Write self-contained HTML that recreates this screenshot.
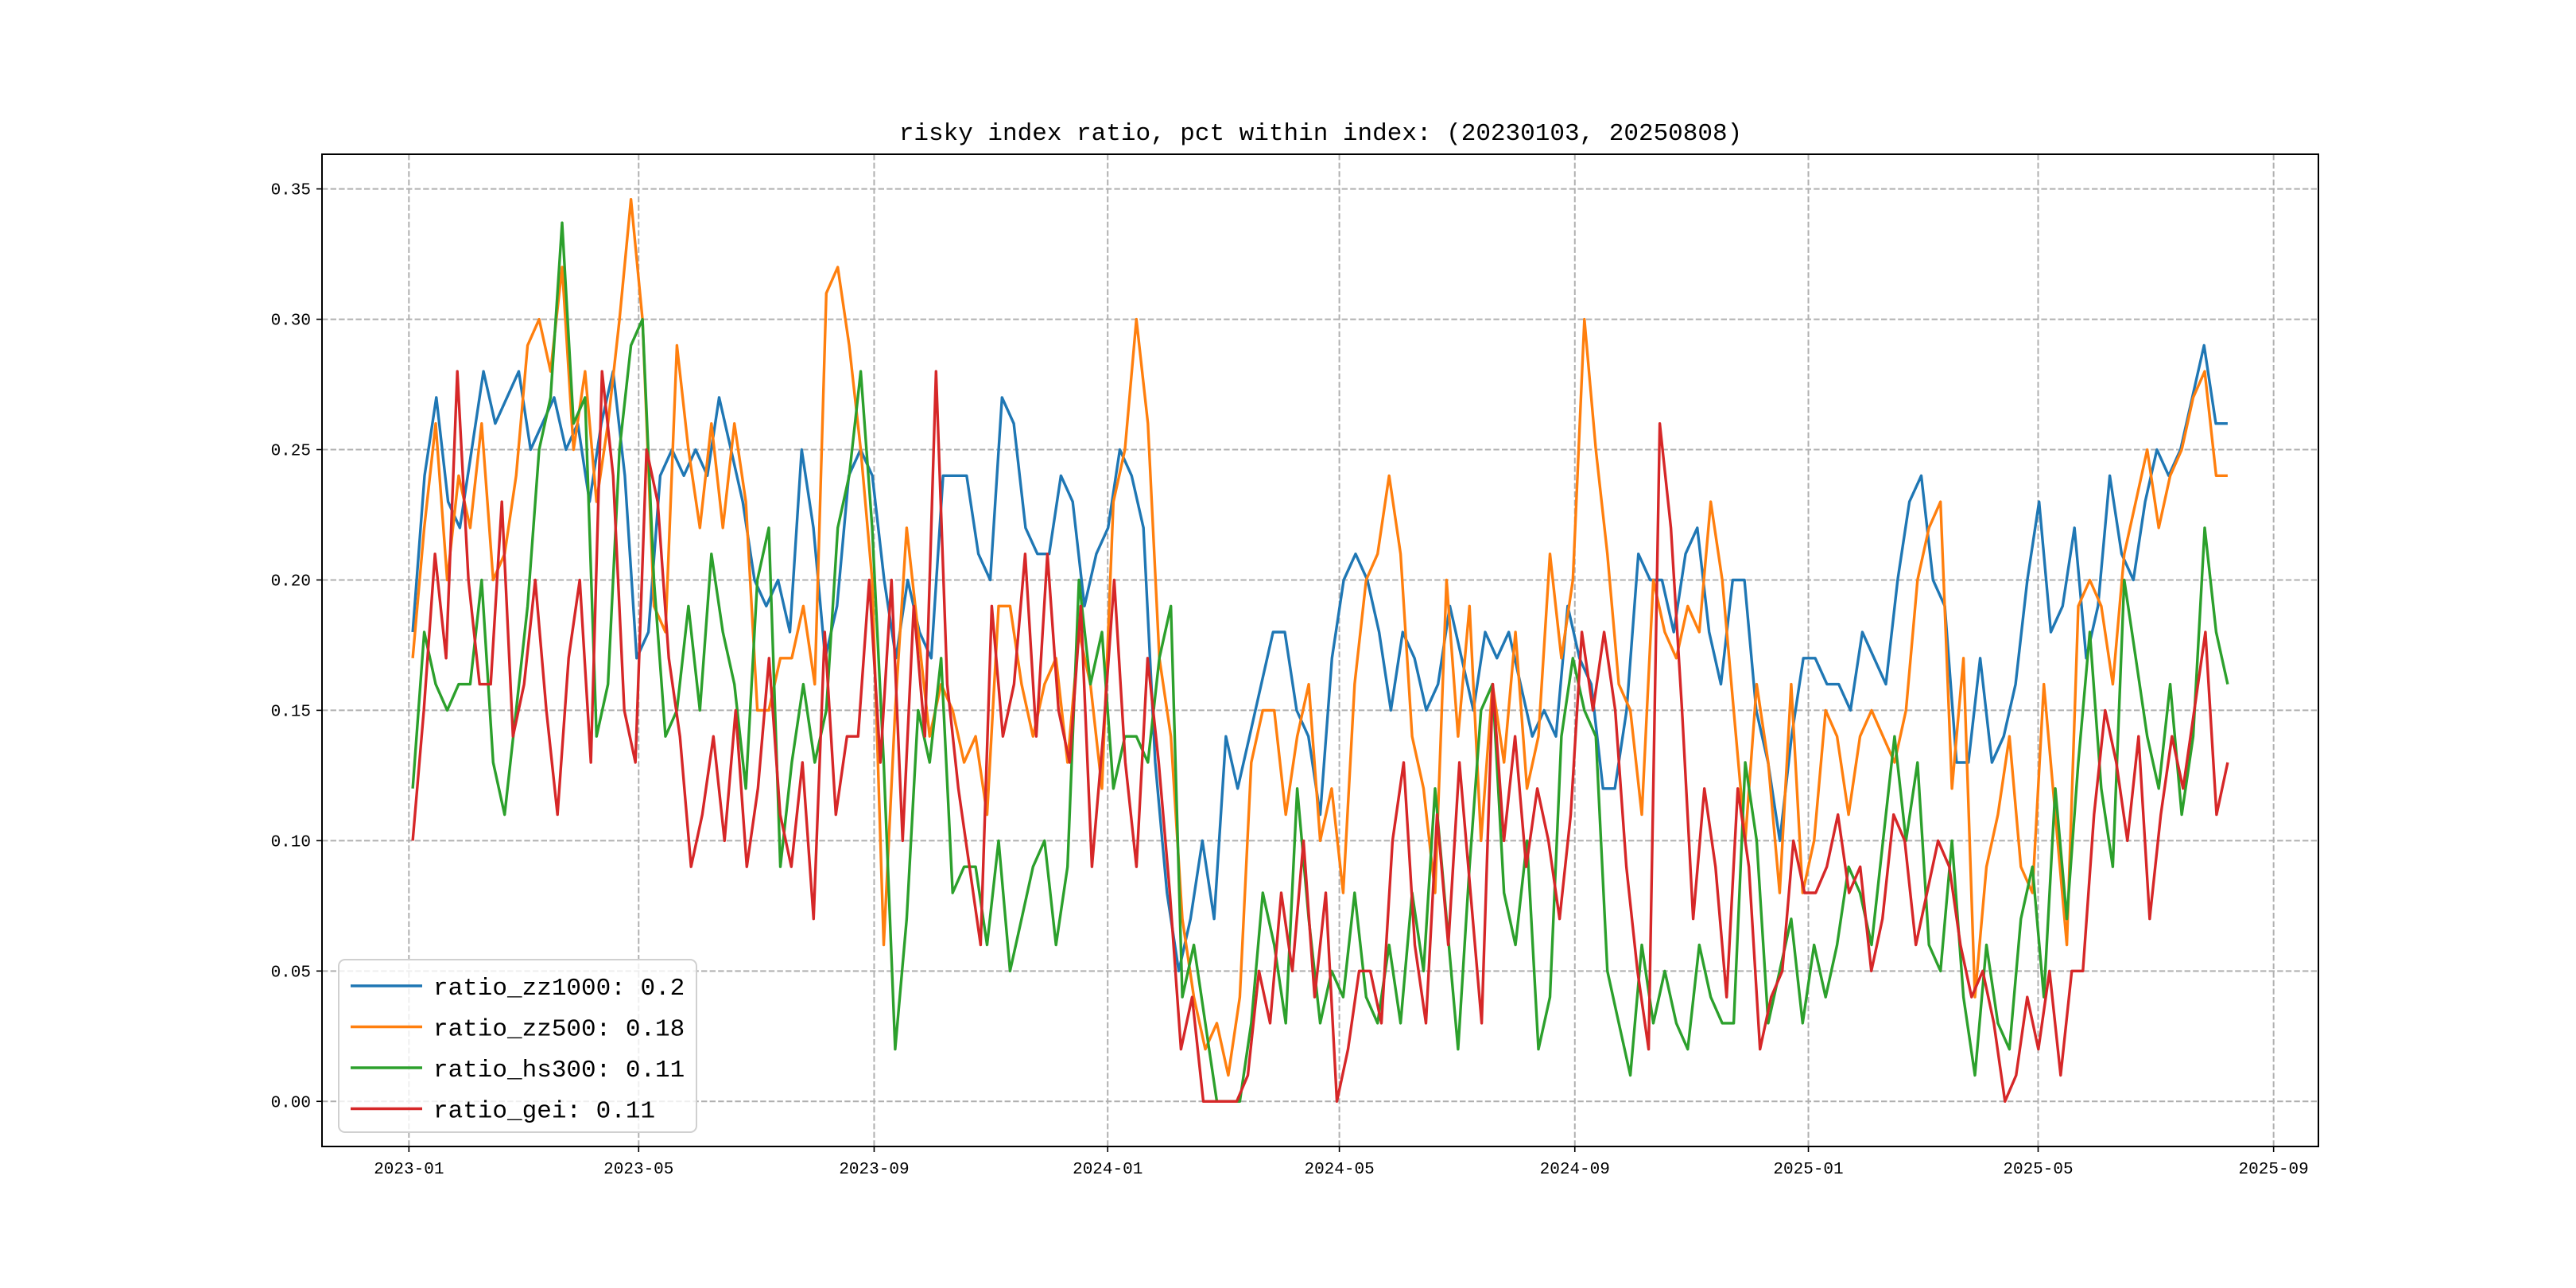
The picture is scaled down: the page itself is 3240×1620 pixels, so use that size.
<!DOCTYPE html>
<html><head><meta charset="utf-8">
<style>
html,body{margin:0;padding:0;background:#fff;}
svg{display:block;}
text{font-family:"Liberation Mono","WenQuanYi Zen Hei",monospace;}
</style></head>
<body>
<svg id="chart" width="3240" height="1620" viewBox="0 0 3240 1620" xmlns="http://www.w3.org/2000/svg">
<rect x="0" y="0" width="3240" height="1620" fill="#fff"/>
<g id="grid"></g>
<g id="series"></g>
<g id="axes"></g>
<text x="1661" y="176" font-size="31" text-anchor="middle">risky index ratio, pct within index: (20230103, 20250808)</text>
<g id="legend"></g>
</svg>
<script>
const startDate = "2023-01-03";
const endDate = "2025-08-08";
const yTicks = [0, 0.05, 0.10, 0.15, 0.20, 0.25, 0.30, 0.35];
const yTickLabels = ["0.00","0.05","0.10","0.15","0.20","0.25","0.30","0.35"];
const xTickDates = ["2023-01-01","2023-05-01","2023-09-01","2024-01-01","2024-05-01","2024-09-01","2025-01-01","2025-05-01","2025-09-01"];
const xTickLabels = ["2023-01","2023-05","2023-09","2024-01","2024-05","2024-09","2025-01","2025-05","2025-09"];
const seriesNames = ["ratio_zz1000: 0.2","ratio_zz500: 0.18","ratio_hs300: 0.11","ratio_gei: 0.11"];
const seriesColors = ["#1f77b4","#ff7f0e","#2ca02c","#d62728"];
const zz1000 = [0.18,0.24,0.27,0.23,0.22,0.25,0.28,0.26,0.27,0.28,0.25,0.26,0.27,0.25,0.26,0.23,0.26,0.28,0.24,0.17,0.18,0.24,0.25,0.24,0.25,0.24,0.27,0.25,0.23,0.20,0.19,0.20,0.18,0.25,0.22,0.17,0.19,0.24,0.25,0.24,0.20,0.17,0.20,0.18,0.17,0.24,0.24,0.24,0.21,0.20,0.27,0.26,0.22,0.21,0.21,0.24,0.23,0.19,0.21,0.22,0.25,0.24,0.22,0.13,0.08,0.05,0.07,0.10,0.07,0.14,0.12,0.14,0.16,0.18,0.18,0.15,0.14,0.11,0.17,0.20,0.21,0.20,0.18,0.15,0.18,0.17,0.15,0.16,0.19,0.17,0.15,0.18,0.17,0.18,0.16,0.14,0.15,0.14,0.19,0.17,0.16,0.12,0.12,0.15,0.21,0.20,0.20,0.18,0.21,0.22,0.18,0.16,0.20,0.20,0.15,0.13,0.10,0.14,0.17,0.17,0.16,0.16,0.15,0.18,0.17,0.16,0.20,0.23,0.24,0.20,0.19,0.13,0.13,0.17,0.13,0.14,0.16,0.20,0.23,0.18,0.19,0.22,0.17,0.19,0.24,0.21,0.20,0.23,0.25,0.24,0.25,0.27,0.29,0.26,0.26];
const zz500 = [0.17,0.22,0.26,0.20,0.24,0.22,0.26,0.20,0.21,0.24,0.29,0.30,0.28,0.32,0.25,0.28,0.23,0.26,0.30,0.346,0.30,0.19,0.18,0.29,0.25,0.22,0.26,0.22,0.26,0.23,0.15,0.15,0.17,0.17,0.19,0.16,0.31,0.32,0.29,0.25,0.20,0.06,0.15,0.22,0.18,0.14,0.16,0.15,0.13,0.14,0.11,0.19,0.19,0.16,0.14,0.16,0.17,0.13,0.18,0.16,0.12,0.23,0.25,0.30,0.26,0.17,0.14,0.07,0.04,0.02,0.03,0.01,0.04,0.13,0.15,0.15,0.11,0.14,0.16,0.10,0.12,0.08,0.16,0.20,0.21,0.24,0.21,0.14,0.12,0.08,0.20,0.14,0.19,0.10,0.16,0.13,0.18,0.12,0.14,0.21,0.17,0.20,0.30,0.25,0.21,0.16,0.15,0.11,0.20,0.18,0.17,0.19,0.18,0.23,0.20,0.15,0.10,0.16,0.13,0.08,0.16,0.08,0.10,0.15,0.14,0.11,0.14,0.15,0.14,0.13,0.15,0.20,0.22,0.23,0.12,0.17,0.04,0.09,0.11,0.14,0.09,0.08,0.16,0.11,0.06,0.19,0.20,0.19,0.16,0.21,0.23,0.25,0.22,0.24,0.25,0.27,0.28,0.24,0.24];
const hs300 = [0.12,0.18,0.16,0.15,0.16,0.16,0.20,0.13,0.11,0.15,0.19,0.25,0.27,0.337,0.26,0.27,0.14,0.16,0.25,0.29,0.30,0.20,0.14,0.15,0.19,0.15,0.21,0.18,0.16,0.12,0.20,0.22,0.09,0.13,0.16,0.13,0.15,0.22,0.24,0.28,0.22,0.13,0.02,0.07,0.15,0.13,0.17,0.08,0.09,0.09,0.06,0.10,0.05,0.07,0.09,0.10,0.06,0.09,0.20,0.16,0.18,0.12,0.14,0.14,0.13,0.17,0.19,0.04,0.06,0.03,0.00,0.00,0.00,0.03,0.08,0.06,0.03,0.12,0.07,0.03,0.05,0.04,0.08,0.04,0.03,0.06,0.03,0.08,0.05,0.12,0.07,0.02,0.09,0.15,0.16,0.08,0.06,0.10,0.02,0.04,0.14,0.17,0.15,0.14,0.05,0.03,0.01,0.06,0.03,0.05,0.03,0.02,0.06,0.04,0.03,0.03,0.13,0.10,0.03,0.05,0.07,0.03,0.06,0.04,0.06,0.09,0.08,0.06,0.10,0.14,0.10,0.13,0.06,0.05,0.10,0.04,0.01,0.06,0.03,0.02,0.07,0.09,0.04,0.12,0.07,0.13,0.18,0.12,0.09,0.20,0.17,0.14,0.12,0.16,0.11,0.14,0.22,0.18,0.16];
const gei = [0.10,0.15,0.21,0.17,0.28,0.20,0.16,0.16,0.23,0.14,0.16,0.20,0.15,0.11,0.17,0.20,0.13,0.28,0.24,0.15,0.13,0.25,0.23,0.17,0.14,0.09,0.11,0.14,0.10,0.15,0.09,0.12,0.17,0.11,0.09,0.13,0.07,0.18,0.11,0.14,0.14,0.20,0.13,0.20,0.10,0.19,0.14,0.28,0.16,0.12,0.09,0.06,0.19,0.14,0.16,0.21,0.14,0.21,0.15,0.13,0.19,0.09,0.14,0.20,0.13,0.09,0.17,0.13,0.08,0.02,0.04,0.00,0.00,0.00,0.00,0.01,0.05,0.03,0.08,0.05,0.10,0.04,0.08,0.00,0.02,0.05,0.05,0.03,0.10,0.13,0.06,0.03,0.11,0.06,0.13,0.08,0.03,0.16,0.10,0.14,0.09,0.12,0.10,0.07,0.11,0.18,0.15,0.18,0.15,0.09,0.05,0.02,0.26,0.22,0.15,0.07,0.12,0.09,0.04,0.12,0.09,0.02,0.04,0.05,0.10,0.08,0.08,0.09,0.11,0.08,0.09,0.05,0.07,0.11,0.10,0.06,0.08,0.10,0.09,0.06,0.04,0.05,0.03,0.00,0.01,0.04,0.02,0.05,0.01,0.05,0.05,0.11,0.15,0.13,0.10,0.14,0.07,0.11,0.14,0.12,0.15,0.18,0.11,0.13];
const allSeries = [zz1000, zz500, hs300, gei];

const NS = "http://www.w3.org/2000/svg";
const L = 405, R = 2916, T = 194, B = 1442;
const DAY = 86400000;
const t0 = Date.parse(startDate), t1 = Date.parse(endDate);
const span = (t1 - t0) / DAY;
const xMinD = -0.05 * span, xMaxD = span * 1.05;
let maxV = 0; allSeries.forEach(s => s.forEach(v => { if (v > maxV) maxV = v; }));
const yMin = -0.05 * maxV, yMax = maxV * 1.05;
function xScale(dayOff){ return L + (dayOff - xMinD) / (xMaxD - xMinD) * (R - L); }
function yScale(v){ return B - (v - yMin) / (yMax - yMin) * (B - T); }
function dayOf(str){ return (Date.parse(str) - t0) / DAY; }
function mk(tag, attrs, parent){ const e = document.createElementNS(NS, tag); for (const k in attrs) e.setAttribute(k, attrs[k]); parent.appendChild(e); return e; }

const grid = document.getElementById('grid'), axes = document.getElementById('axes'), sg = document.getElementById('series'), lg = document.getElementById('legend');

yTicks.forEach((v, i) => {
  const y = yScale(v);
  const gl = mk('line', {x1:L, x2:R, y1:y, y2:y, stroke:'#b0b0b0', 'stroke-width':2, 'stroke-dasharray':'7.4,3.2'}, grid);
  
  
  const tk = mk('line', {x1:L-7, x2:L, y1:y, y2:y, stroke:'#000', 'stroke-width':1.6}, axes);
  
  
  const tx = mk('text', {x:L-14, y:y+7, 'font-size':21, 'text-anchor':'end'}, axes);
  tx.textContent = yTickLabels[i];
  
  
});
xTickDates.forEach((d, i) => {
  const x = xScale(dayOf(d));
  const gl = mk('line', {x1:x, x2:x, y1:T, y2:B, stroke:'#b0b0b0', 'stroke-width':2, 'stroke-dasharray':'7.4,3.2'}, grid);
  
  
  const tk = mk('line', {x1:x, x2:x, y1:B, y2:B+7, stroke:'#000', 'stroke-width':1.6}, axes);
  
  
  const tx = mk('text', {x:x, y:B+34, 'font-size':21, 'text-anchor':'middle'}, axes);
  tx.textContent = xTickLabels[i];
  
  
});
const frame = mk('rect', {x:L, y:T, width:R-L, height:B-T, fill:'none', stroke:'#000', 'stroke-width':2}, axes);



allSeries.forEach((s, si) => {
  const n = s.length;
  const pts = s.map((v, i) => xScale(span * i / (n - 1)).toFixed(1) + ',' + yScale(v).toFixed(1)).join(' ');
  const pl = mk('polyline', {points:pts, fill:'none', stroke:seriesColors[si], 'stroke-width':3.4, 'stroke-linejoin':'round'}, sg);
  
  
});

const box = mk('rect', {x:426, y:1207, width:450, height:217, rx:8, fill:'#fff', 'fill-opacity':0.8, stroke:'#d0d0d0', 'stroke-width':2}, lg);


seriesNames.forEach((nm, i) => {
  const y = 1240 + i * 51.5;
  const ln = mk('line', {x1:441, x2:531, y1:y, y2:y, stroke:seriesColors[i], 'stroke-width':3.4}, lg);
  
  
  const tx = mk('text', {x:545, y:y+11, 'font-size':31}, lg);
  tx.textContent = nm;
  
  
});
</script>
</body></html>
